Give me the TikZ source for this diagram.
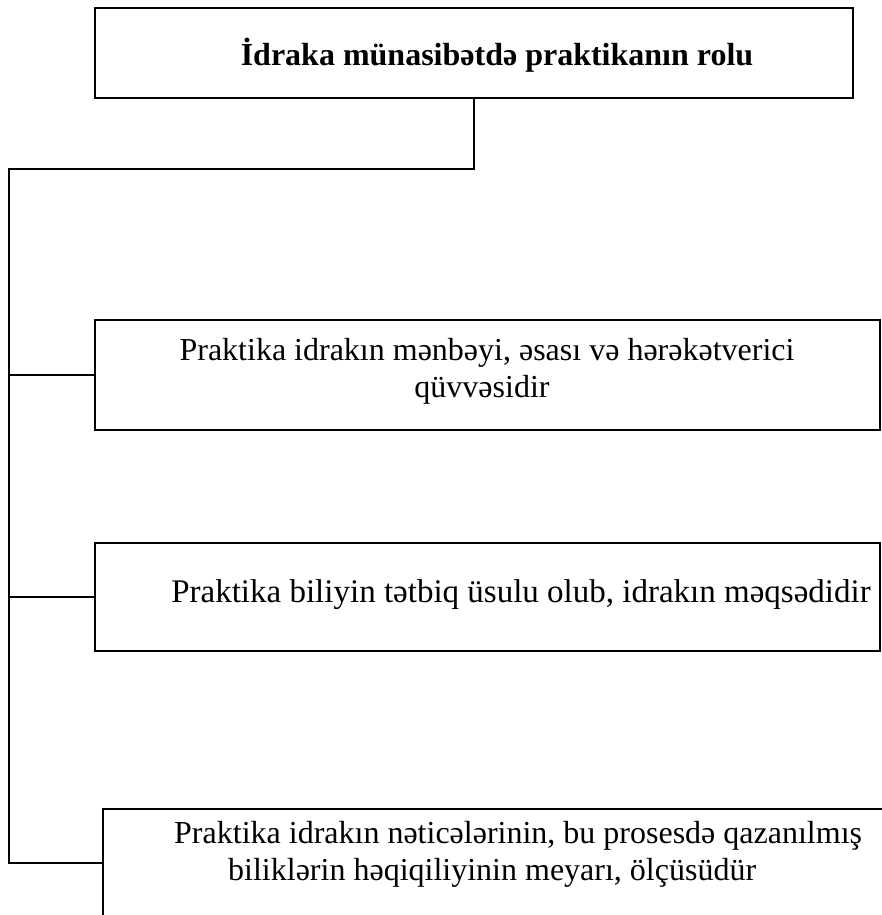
\documentclass[tikz,border=0pt]{standalone}
\usepackage{fontspec}
\setmainfont{Liberation Serif}
\begin{document}
\begin{tikzpicture}[x=1pt,y=-1pt,
  box/.style={draw=black, line width=2.2pt, inner sep=0pt, anchor=north west},
  wire/.style={draw=black, line width=1.6pt},
  txt/.style={inner sep=0pt, font=\fontsize{32}{37}\selectfont},
  btxt/.style={inner sep=0pt, font=\fontsize{32}{37}\selectfont\bfseries}]
\useasboundingbox (0,0) rectangle (882,915);
\clip (0,0) rectangle (882,915);
\node[box, minimum width=758pt, minimum height=90pt] (b1) at (94,7) {};
\node[box, minimum width=785pt, minimum height=110pt] (b2) at (94,319) {};
\node[box, minimum width=785pt, minimum height=108pt] (b3) at (94,542) {};
\node[box, minimum width=800pt, minimum height=108pt] (b4) at (102,808) {};
\coordinate (j) at (9,169);
\draw[wire] (b1.south) |- (j) |- (b4.west);
\draw[wire] (j |- b2.west) -- (b2.west);
\draw[wire] (j |- b3.west) -- (b3.west);
\node[btxt, anchor=base] (t1) at (497,66) {İdraka münasibətdə praktikanın rolu};
\node[txt, anchor=base] (t2a) at (487,360) {Praktika idrakın mənbəyi, əsası və hərəkətverici};
\node[txt, anchor=base] (t2b) at (482,397) {qüvvəsidir};
\node[txt, anchor=base] (t3) at (521,602) {\fontsize{33}{37}\selectfont Praktika biliyin tətbiq üsulu olub, idrakın məqsədidir};
\node[txt, anchor=base west] (t4a) at (174,843) {Praktika idrakın nəticələrinin, bu prosesdə qazanılmış};
\node[txt, anchor=base west] (t4b) at (228,880) {biliklərin həqiqiliyinin meyarı, ölçüsüdür};
\end{tikzpicture}
\end{document}
